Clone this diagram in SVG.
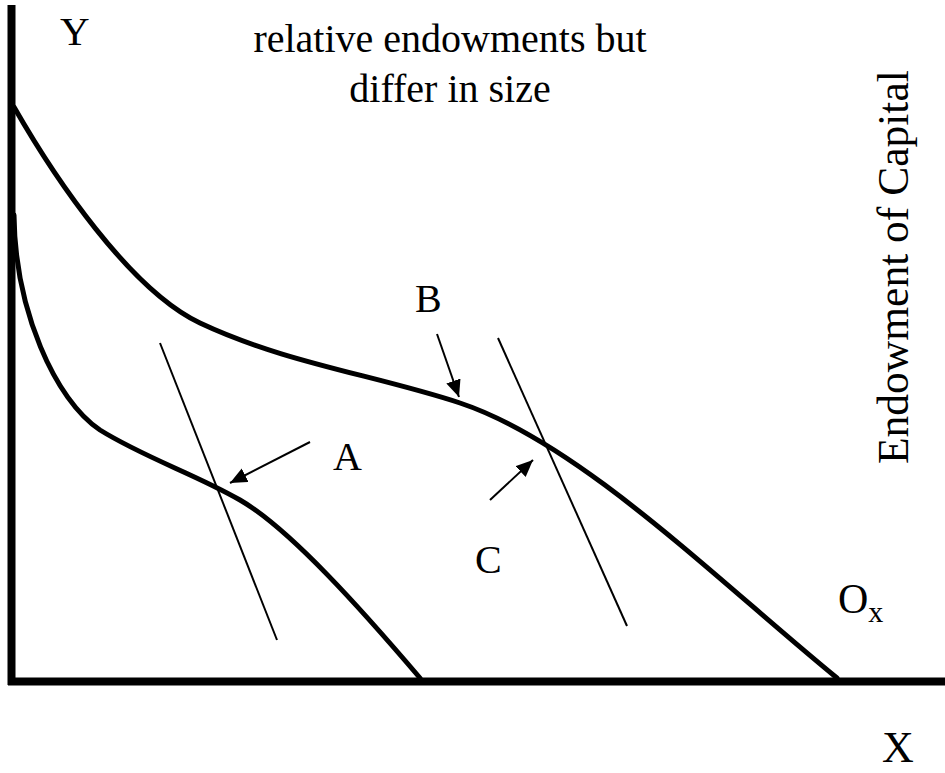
<svg xmlns="http://www.w3.org/2000/svg" width="945" height="773" viewBox="0 0 945 773">
<style>
text{font-family:"Liberation Serif","Times New Roman",serif;fill:#000}
.axis{stroke:#000;stroke-width:8;fill:none}
.curve{stroke:#000;stroke-width:5;fill:none;stroke-linecap:round}
.thin{stroke:#000;stroke-width:2;fill:none}
.arrow{stroke:#000;stroke-width:2;fill:none;marker-end:url(#ah)}
</style>
<defs>
<marker id="ah" markerUnits="userSpaceOnUse" markerWidth="18" markerHeight="16" refX="17" refY="7.5" orient="auto">
<path d="M0,0 L17,7.5 L0,15 z" fill="#000"/>
</marker>
</defs>
<rect width="945" height="773" fill="#fff"/>
<g id="axes">
<line class="axis" x1="11.5" y1="5" x2="11.5" y2="685"/>
<line class="axis" x1="8" y1="681.5" x2="945" y2="681.5"/>
</g>
<g id="curveB">
<path class="curve" d="M14,107 C54,177 130,290 200,323 C285,363 375,375 460,403 C580,443 717,580 837,678"/>
</g>
<g id="curveA">
<path class="curve" d="M14,215 C15,310 55,400 100,430 C145,458 195,474 240,500 C290,529 362,610 420,678"/>
</g>
<g id="connectors">
<line class="thin" x1="160" y1="343" x2="277" y2="640"/>
<line class="thin" x1="498" y1="338" x2="627" y2="626"/>
<line class="arrow" x1="437" y1="334" x2="459" y2="397"/>
<line class="arrow" x1="490" y1="500" x2="533" y2="460"/>
<line class="arrow" x1="310" y1="442" x2="230" y2="483"/>
</g>
<g id="labels">
<text x="60" y="45" font-size="41">Y</text>
<text x="450" y="52" font-size="40" text-anchor="middle">relative endowments but</text>
<text x="450" y="102" font-size="40" text-anchor="middle">differ in size</text>
<text x="415" y="312" font-size="40">B</text>
<text x="333" y="470" font-size="40">A</text>
<text x="475" y="573" font-size="40">C</text>
<text x="838" y="613" font-size="42">O<tspan font-size="30" dy="9">x</tspan></text>
<text x="882" y="762" font-size="44">X</text>
<text transform="translate(908,464) rotate(-90)" font-size="43.5">Endowment of Capital</text>
</g>
</svg>
